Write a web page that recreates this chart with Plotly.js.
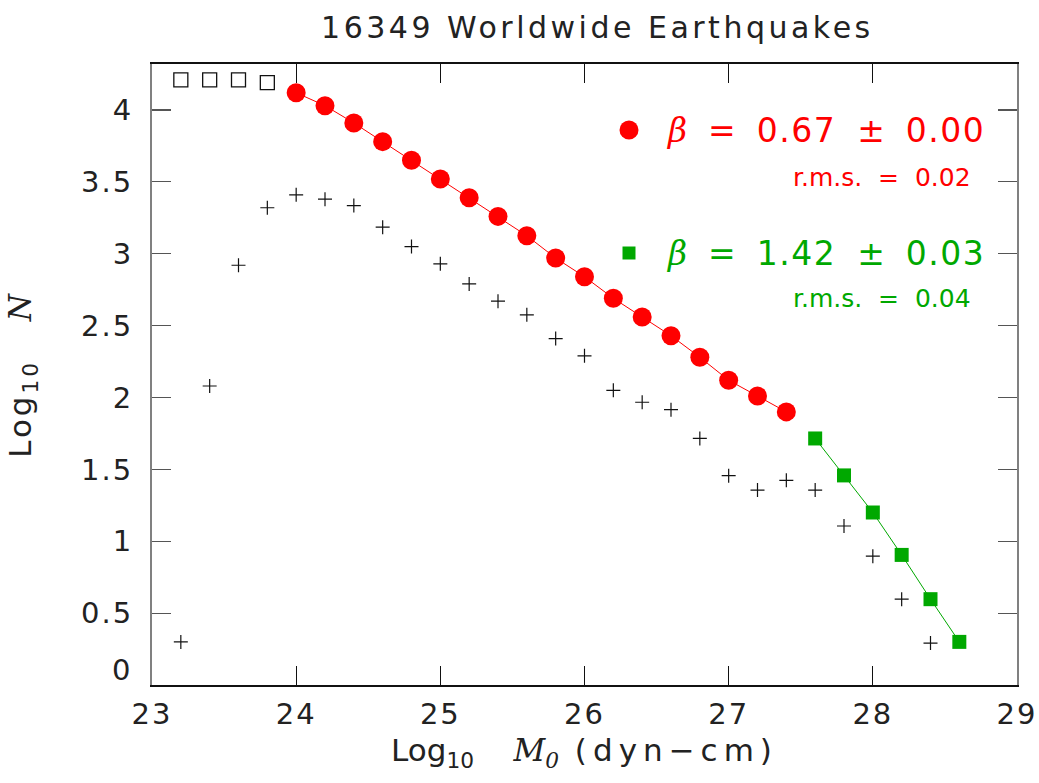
<!DOCTYPE html>
<html>
<head>
<meta charset="utf-8">
<script src="https://cdn.plot.ly/plotly-3.0.1.min.js"></script>
<style>
html,body{margin:0;padding:0;background:#fff;}
#chart{width:1039px;height:783px;}
.gtitle{letter-spacing:3.5px;}
.xtick text,.ytick text{letter-spacing:2px;}
.ytitle{letter-spacing:3px;}
</style>
</head>
<body>
<div id="chart"></div>
<script>
// Open squares (excluded low-magnitude cumulative counts)
const openX = [23.2, 23.4, 23.6, 23.8];
const openY = [4.21, 4.21, 4.21, 4.19];

// Red circles: cumulative counts in first fit range
const redX = [24.0, 24.2, 24.4, 24.6, 24.8, 25.0, 25.2, 25.4, 25.6, 25.8, 26.0, 26.2, 26.4, 26.6, 26.8, 27.0, 27.2, 27.4];
const redY = [4.12, 4.03, 3.91, 3.78, 3.65, 3.52, 3.39, 3.26, 3.125, 2.97, 2.84, 2.69, 2.56, 2.43, 2.28, 2.12, 2.01, 1.90];

// Green squares: second fit range
const greenX = [27.6, 27.8, 28.0, 28.2, 28.4, 28.6];
const greenY = [1.715, 1.458, 1.20, 0.905, 0.597, 0.30];

// Crosses: incremental counts
const crossX = [23.2, 23.4, 23.6, 23.8, 24.0, 24.2, 24.4, 24.6, 24.8, 25.0, 25.2, 25.4, 25.6, 25.8, 26.0, 26.2, 26.4, 26.6, 26.8, 27.0, 27.2, 27.4, 27.6, 27.8, 28.0, 28.2, 28.4];
const crossY = [0.30, 2.08, 2.92, 3.32, 3.41, 3.38, 3.335, 3.185, 3.05, 2.93, 2.79, 2.67, 2.575, 2.41, 2.29, 2.05, 1.967, 1.915, 1.715, 1.456, 1.356, 1.424, 1.356, 1.106, 0.896, 0.597, 0.292];

const xTicks = [23, 24, 25, 26, 27, 28, 29];
const yTicks = [0, 0.5, 1, 1.5, 2, 2.5, 3, 3.5, 4];
const yTickText = ['0', '0.5', '1', '1.5', '2', '2.5', '3', '3.5', '4'];

const titleText = '16349 Worldwide Earthquakes';
const fit1 = {beta: '0.67', err: '0.00', rms: '0.02'};
const fit2 = {beta: '1.42', err: '0.03', rms: '0.04'};

const RED = '#ff0000';
const GREEN = '#00a800';
const FONT = 'DejaVu Sans';
const SERIF = "font-family:'DejaVu Serif'";
const NB = '\u00a0';
const S2 = NB + NB;

// plot-area pixel helpers for paper coordinates (layout only)
const PL = 152, PR = 1017, PT = 64, PB = 685;
const px = v => (v - PL) / (PR - PL);
const py = v => (PB - v) / (PB - PT);

const traces = [
  {x: crossX, y: crossY, type: 'scatter', mode: 'markers',
   marker: {symbol: 'cross-thin-open', size: 10, color: '#111', line: {color: '#111', width: 1.2}}},
  {x: openX, y: openY, type: 'scatter', mode: 'markers',
   marker: {symbol: 'square-open', size: 14, color: '#111', line: {color: '#111', width: 1.3}}},
  {x: redX, y: redY, type: 'scatter', mode: 'lines+markers',
   line: {color: RED, width: 1},
   marker: {symbol: 'circle', size: 19, color: RED}},
  {x: greenX, y: greenY, type: 'scatter', mode: 'lines+markers',
   line: {color: GREEN, width: 1},
   marker: {symbol: 'square', size: 14, color: GREEN}}
];

const tickFont = {family: FONT, size: 29, color: '#222'};

const layout = {
  width: 1039, height: 783,
  margin: {l: PL, r: 1039 - PR, t: PT, b: 783 - PB},
  paper_bgcolor: '#fff', plot_bgcolor: '#fff',
  showlegend: false,
  title: {text: titleText, x: 0.575, xanchor: 'center', y: 0.965, yanchor: 'middle',
          font: {family: FONT, size: 30, color: '#222'}},
  xaxis: {
    range: [23, 29], tickvals: xTicks, ticktext: xTicks.map(String),
    showgrid: false, zeroline: false, showline: true, mirror: 'ticks',
    linecolor: '#111', linewidth: 2,
    ticks: 'inside', ticklen: 19, tickwidth: 1.2, tickcolor: '#111',
    tickfont: tickFont, ticklabelstandoff: 2,
    title: {text: 'Log<sub>10</sub>' + S2 + S2 + '<span style="' + SERIF + '"><i>M</i><sub><i>0</i></sub></span>' +
                  '<span style="letter-spacing:6px"> (dyn−cm)</span>',
            font: {family: FONT, size: 31, color: '#222'}, standoff: 10}
  },
  yaxis: {
    range: [0, 4.32], tickvals: yTicks,
    ticktext: yTickText.map((t, i) => i === 0 ? '' : t),
    showgrid: false, zeroline: false, showline: true, mirror: 'ticks',
    linecolor: '#808080', linewidth: 2,
    ticks: 'inside', ticklen: 19, tickwidth: 1.2, tickcolor: '#555',
    tickfont: tickFont, ticklabelstandoff: 11,
    title: {text: NB + 'Log<sub>10</sub>' + NB + NB + NB + '<span style="' + SERIF + '"><i>N</i></span>',
            font: {family: FONT, size: 31, color: '#222'}, standoff: 40}
  },
  shapes: [
    {type: 'circle', xref: 'paper', yref: 'paper', x0: px(619.5), x1: px(638.5), y0: py(139.5), y1: py(120.5),
     fillcolor: RED, line: {width: 0}},
    {type: 'rect', xref: 'paper', yref: 'paper', x0: px(622.5), x1: px(635.5), y0: py(259.5), y1: py(246.5),
     fillcolor: GREEN, line: {width: 0}}
  ],
  annotations: [
    {xref: 'x', yref: 'y', x: xTicks[0], y: yTicks[0], text: yTickText[0], showarrow: false,
     xanchor: 'right', yanchor: 'middle', xshift: -20, yshift: 15,
     font: tickFont},
    {xref: 'paper', yref: 'paper', x: px(987), y: py(130),
     text: '<span style="' + SERIF + '"><i>β</i></span>' + S2 + '=' + S2 + '<span style="letter-spacing:1.5px">' + fit1.beta + '</span>' + S2 + '±' + S2 + '<span style="letter-spacing:1.5px">' + fit1.err + '</span>',
     showarrow: false, xanchor: 'right', yanchor: 'middle', font: {family: FONT, size: 33, color: RED}},
    {xref: 'paper', yref: 'paper', x: px(973), y: py(177),
     text: 'r.m.s.' + S2 + '=' + S2 + fit1.rms, showarrow: false, xanchor: 'right', yanchor: 'middle',
     font: {family: FONT, size: 25, color: RED}},
    {xref: 'paper', yref: 'paper', x: px(987), y: py(253),
     text: '<span style="' + SERIF + '"><i>β</i></span>' + S2 + '=' + S2 + '<span style="letter-spacing:1.5px">' + fit2.beta + '</span>' + S2 + '±' + S2 + '<span style="letter-spacing:1.5px">' + fit2.err + '</span>',
     showarrow: false, xanchor: 'right', yanchor: 'middle', font: {family: FONT, size: 33, color: GREEN}},
    {xref: 'paper', yref: 'paper', x: px(973), y: py(298),
     text: 'r.m.s.' + S2 + '=' + S2 + fit2.rms, showarrow: false, xanchor: 'right', yanchor: 'middle',
     font: {family: FONT, size: 25, color: GREEN}}
  ]
};

Plotly.newPlot('chart', traces, layout, {displayModeBar: false, staticPlot: true});
</script>
</body>
</html>
